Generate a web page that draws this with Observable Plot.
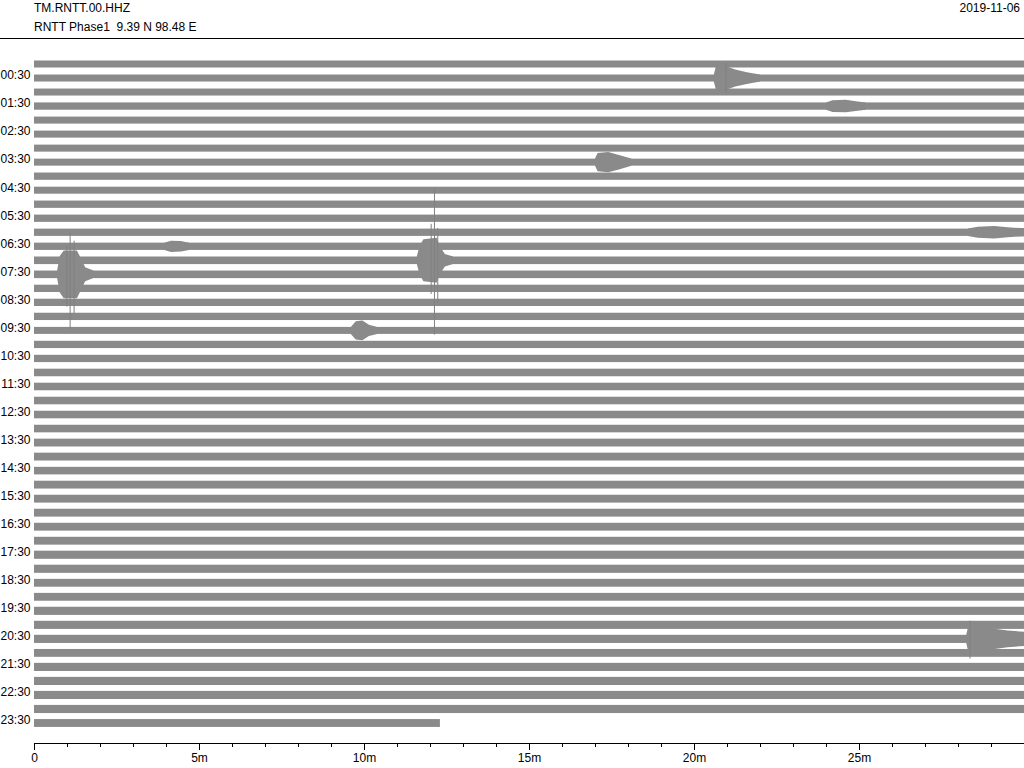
<!DOCTYPE html>
<html>
<head>
<meta charset="utf-8">
<script src="https://cdn.jsdelivr.net/npm/d3@7"></script>
<script src="https://cdn.jsdelivr.net/npm/@observablehq/plot@0.6"></script>
<style>
  html, body { margin: 0; padding: 0; background: #fff; }
  body { width: 1024px; height: 768px; position: relative; overflow: hidden;
         font-family: "Liberation Sans", Arial, Helvetica, sans-serif; }
  #header { position: absolute; left: 0; top: 0; width: 1024px; height: 38px;
            border-bottom: 1px solid #000; font-size: 12px; color: #000; }
  #header div { position: absolute; white-space: pre; line-height: 14px; }
  #chart { position: absolute; left: 0; top: 39px; }
</style>
</head>
<body>
<div id="header">
  <div id="t1" style="left:34px; top:1px;"></div>
  <div id="t2" style="left:34px; top:20px;"></div>
  <div id="t3" style="right:4px; top:1px;"></div>
</div>
<div id="chart"></div>
<script>
// ---- text ----
const title = "TM.RNTT.00.HHZ";
const subtitle = "RNTT Phase1  9.39 N 98.48 E";
const dateLabel = "2019-11-06";

// ---- axis ticks ----
const majorTicks = [0, 5, 10, 15, 20, 25];
const majorLabels = ["0", "5m", "10m", "15m", "20m", "25m"];
const minorTicks = [0,1,2,3,4,5,6,7,8,9,10,11,12,13,14,15,16,17,18,19,20,21,22,23,24,25,26,27,28,29];
const rowLabelRows = [1,3,5,7,9,11,13,15,17,19,21,23,25,27,29,31,33,35,37,39,41,43,45,47];
const rowLabels = ["00:30","01:30","02:30","03:30","04:30","05:30","06:30","07:30","08:30","09:30","10:30","11:30",
                   "12:30","13:30","14:30","15:30","16:30","17:30","18:30","19:30","20:30","21:30","22:30","23:30"];

// ---- trace data: row = 30-minute line (0 = 00:00), amplitudes in line-spacing units ----
// background noise half-amplitude of each line
const baseNoise = [0.25,0.25,0.25,0.26,0.25,0.25,0.25,0.25,0.26,0.25,0.26,0.26,
                   0.26,0.26,0.27,0.27,0.26,0.26,0.26,0.25,0.26,0.26,0.27,0.27,
                   0.27,0.27,0.27,0.28,0.28,0.27,0.28,0.28,0.28,0.28,0.28,0.29,
                   0.29,0.28,0.28,0.29,0.29,0.29,0.28,0.29,0.29,0.29,0.29,0.28];
// end minute of each line (last line is partial)
const rowEnd = [30,30,30,30,30,30,30,30,30,30,30,30,30,30,30,30,30,30,30,30,30,30,30,30,
                30,30,30,30,30,30,30,30,30,30,30,30,30,30,30,30,30,30,30,30,30,30,30,12.3];
// event envelopes [minute, half-amplitude]
const eventRows = [1, 3, 7, 12, 13, 14, 15, 19, 41];
const eventEnvelopes = [
  [[20.6,0.25],[20.66,0.8],[20.95,0.85],[21.25,0.6],[21.6,0.42],[22.0,0.25]],
  [[24.0,0.26],[24.2,0.42],[24.6,0.45],[24.9,0.35],[25.2,0.26]],
  [[17.0,0.26],[17.08,0.65],[17.4,0.72],[17.75,0.5],[18.1,0.26]],
  [[28.3,0.26],[28.6,0.4],[29.1,0.45],[29.5,0.35],[29.9,0.3],[30,0.3]],
  [[3.95,0.26],[4.15,0.4],[4.45,0.38],[4.7,0.26]],
  [[11.6,0.27],[11.68,1.0],[11.8,1.5],[12.2,1.6],[12.3,1.0],[12.45,0.45],[12.7,0.27]],
  [[0.7,0.27],[0.78,1.3],[0.9,1.7],[1.3,1.7],[1.45,1.0],[1.55,0.5],[1.8,0.27]],
  [[9.6,0.25],[9.75,0.65],[9.95,0.7],[10.15,0.4],[10.4,0.25]],
  [[28.25,0.29],[28.32,1.0],[28.6,0.95],[29.0,0.75],[29.5,0.6],[30,0.5]]
];
// isolated large samples [row, minute, top offset, bottom offset]
const spikes = [
  [15, 1.08, -3.0, 3.9],
  [15, 1.2, -2.4, 2.8],
  [15, 0.98, -2.0, 2.3],
  [14, 12.12, -5.1, 5.3],
  [14, 12.02, -2.6, 2.4],
  [14, 12.22, -2.3, 3.0],
  [1, 20.95, -1.1, 1.1],
  [41, 28.35, -1.3, 1.4]
];

// ---- build tables ----
const baseBands = baseNoise.map((a, k) => ({x1: 0, x2: rowEnd[k], y1: k - a, y2: k + a}));
const eventPoints = [];
eventRows.forEach((k, i) => {
  for (const [t, a] of eventEnvelopes[i]) eventPoints.push({row: k, t, lo: k - a, hi: k + a});
});
const spikeRows = spikes.map(([row, t, a, b]) => ({t, y1: row + a, y2: row + b}));

document.getElementById("t1").textContent = title;
document.getElementById("t2").textContent = subtitle;
document.getElementById("t3").textContent = dateLabel;

const traceColor = "#8a8a8a";
const chart = Plot.plot({
  width: 1024,
  height: 729,
  marginLeft: 34,
  marginRight: 0,
  marginTop: 0,
  marginBottom: 25,
  style: {fontFamily: "'Liberation Sans', Arial, Helvetica, sans-serif", fontSize: "12px", color: "#000", background: "#fff"},
  x: {domain: [0, 30], range: [34, 1024]},
  y: {domain: [0, 47], range: [25, 684]},
  marks: [
    Plot.rect(baseBands, {x1: "x1", x2: "x2", y1: "y1", y2: "y2", fill: traceColor}),
    Plot.areaY(eventPoints, {x: "t", y1: "lo", y2: "hi", z: "row", fill: traceColor, curve: "linear"}),
    Plot.ruleX(spikeRows, {x: "t", y1: "y1", y2: "y2", stroke: "#808080", strokeWidth: 1}),
    Plot.frame({anchor: "bottom", stroke: "#000"}),
    Plot.axisX({ticks: minorTicks, tickSize: 4, tickFormat: () => "", label: null, stroke: "#000"}),
    Plot.axisX({ticks: majorTicks, tickSize: 7, tickPadding: 3, fontSize: 12,
                tickFormat: d => majorLabels[majorTicks.indexOf(d)], label: null, stroke: "#000"}),
    Plot.axisY({ticks: rowLabelRows, tickSize: 0, tickPadding: 4, fontSize: 12, dy: -3,
                tickFormat: d => rowLabels[rowLabelRows.indexOf(d)], label: null})
  ]
});
document.getElementById("chart").appendChild(chart);
</script>
</body>
</html>
